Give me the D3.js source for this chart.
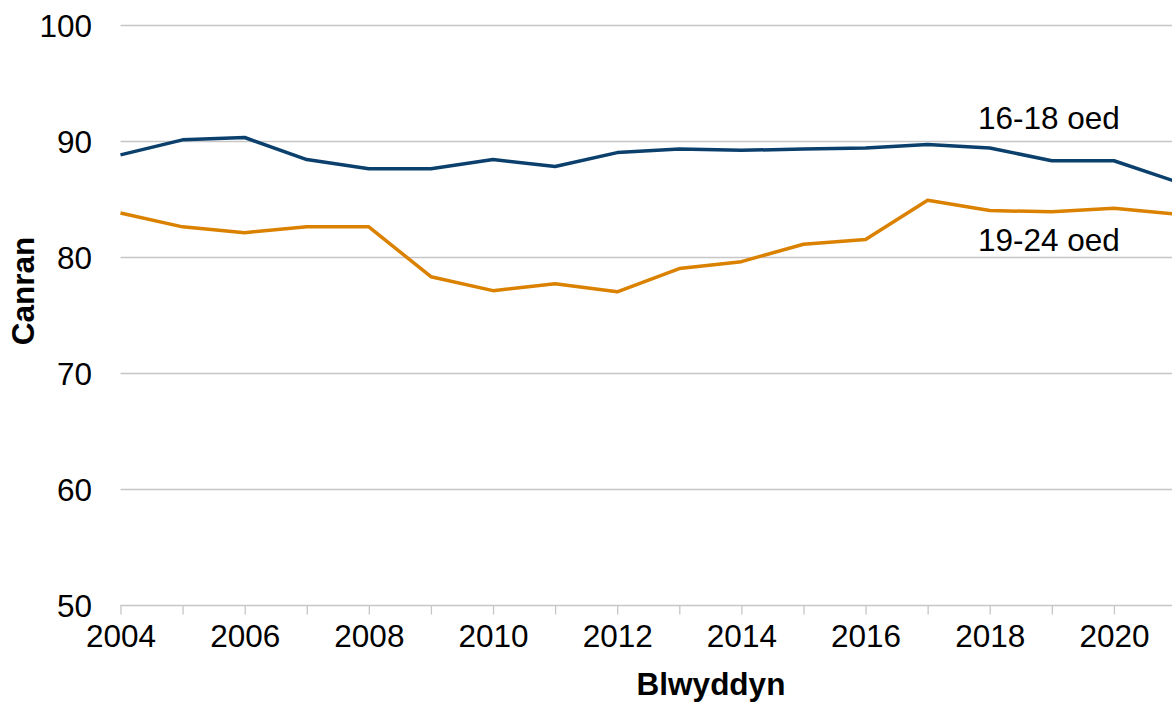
<!DOCTYPE html>
<html>
<head>
<meta charset="utf-8">
<script src="https://cdn.jsdelivr.net/npm/d3@7"></script>
<style>
	body { margin: 0; background: #fff; }
	text { font-family: Arial, "Liberation Sans", sans-serif; }
</style>
</head>
<body>
<script>
// years along the x axis
var years = [2004, 2005, 2006, 2007, 2008, 2009, 2010, 2011, 2012, 2013, 2014, 2015, 2016, 2017, 2018, 2019, 2020, 2021];

// percentage for each age group
var age1618 = [88.8, 90.1, 90.3, 88.4, 87.6, 87.6, 88.4, 87.8, 89.0, 89.3, 89.2, 89.3, 89.4, 89.7, 89.4, 88.3, 88.3, 86.5];
var age1924 = [83.8, 82.6, 82.1, 82.6, 82.6, 78.3, 77.1, 77.7, 77.0, 79.0, 79.6, 81.1, 81.5, 84.9, 84.0, 83.9, 84.2, 83.7];

var seriesNames = ['16-18 oed', '19-24 oed'];
var yTicks = [50, 60, 70, 80, 90, 100];
var xTickLabels = [2004, 2006, 2008, 2010, 2012, 2014, 2016, 2018, 2020];

var WIDTH = 1172, HEIGHT = 704;
var LEFT = 120.5, RIGHT = 1176, TOP = 25, BOTTOM = 605;
var FONT = 31.5;

var svg = d3.select('body').append('svg')
	.attr('width', WIDTH)
	.attr('height', HEIGHT);

var x = d3.scaleLinear().domain([2004, 2021]).range([LEFT, RIGHT]);
var y = d3.scaleLinear().domain([50, 100]).range([BOTTOM, TOP]);

// gridlines
svg.append('g')
	.selectAll('line')
	.data(yTicks)
	.enter().append('line')
	.attr('x1', LEFT)
	.attr('x2', WIDTH)
	.attr('y1', function(d) { return Math.round(y(d)) + 0.5; })
	.attr('y2', function(d) { return Math.round(y(d)) + 0.5; })
	.attr('stroke', '#c6c6c6')
	.attr('stroke-width', 1.3);

// y tick labels
svg.append('g')
	.selectAll('text')
	.data(yTicks)
	.enter().append('text')
	.attr('x', 92)
	.attr('y', function(d) { return y(d) + 11.5; })
	.attr('text-anchor', 'end')
	.style('font-size', FONT + 'px')
	.attr('fill', '#000')
	.text(function(d) { return d; });

// x axis: tick for every year, label every two years
var xAxis = d3.axisBottom(x)
	.tickValues(years)
	.tickSize(9)
	.tickFormat(function(d) { return xTickLabels.indexOf(d) > -1 ? d : ''; });

var gx = svg.append('g')
	.attr('transform', 'translate(0,' + (Math.round(BOTTOM) + 0.5) + ')')
	.call(xAxis);
gx.select('.domain').remove();
gx.selectAll('line').attr('stroke', '#c6c6c6').attr('stroke-width', 1.3);
gx.selectAll('text')
	.attr('y', 19)
	.attr('dy', '0.71em')
	.style('font-size', FONT + 'px')
	.style('font-family', 'Arial, "Liberation Sans", sans-serif')
	.attr('fill', '#000');

// lines
var line = d3.line()
	.x(function(d, i) { return x(years[i]); })
	.y(function(d) { return y(d); });

svg.append('path')
	.datum(age1924)
	.attr('d', line)
	.attr('fill', 'none')
	.attr('stroke', '#da8100')
	.attr('stroke-width', 3.5)
	.attr('stroke-linejoin', 'round');

svg.append('path')
	.datum(age1618)
	.attr('d', line)
	.attr('fill', 'none')
	.attr('stroke', '#0b406d')
	.attr('stroke-width', 3.5)
	.attr('stroke-linejoin', 'round');

// series labels
svg.append('text')
	.attr('x', 978).attr('y', 129)
	.style('font-size', FONT + 'px')
	.text(seriesNames[0]);
svg.append('text')
	.attr('x', 978).attr('y', 251)
	.style('font-size', FONT + 'px')
	.text(seriesNames[1]);

// axis titles
svg.append('text')
	.attr('transform', 'translate(34,291) rotate(-90)')
	.attr('text-anchor', 'middle')
	.style('font-size', FONT + 'px')
	.style('font-weight', 'bold')
	.text('Canran');

svg.append('text')
	.attr('x', 711).attr('y', 695)
	.attr('text-anchor', 'middle')
	.style('font-size', FONT + 'px')
	.style('font-weight', 'bold')
	.text('Blwyddyn');
</script>
</body>
</html>
